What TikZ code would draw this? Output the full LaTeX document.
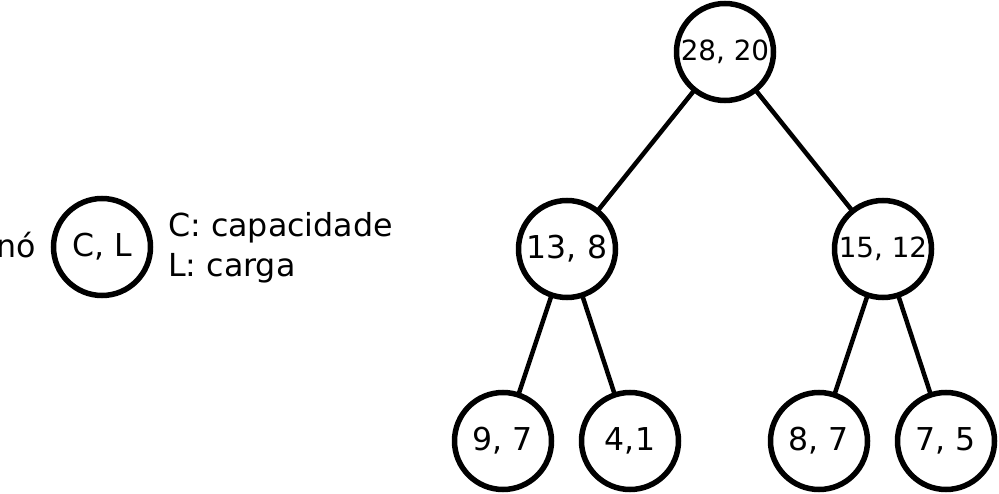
\documentclass[tikz,border=0pt]{standalone}
\usepackage{fontspec}
\setmainfont{DejaVu Sans}
\begin{document}
\begin{tikzpicture}[x=1pt,y=-1pt,
  nd/.style={circle,draw,line width=5.5pt,minimum size=97pt,inner sep=0pt,outer sep=0pt,font=\fontsize{31.5}{38}\selectfont},
  ndsmall/.style={nd,font=\fontsize{27.8}{33}\selectfont},
  lbl/.style={inner sep=0pt,font=\fontsize{31.7}{38}\selectfont},
  edge/.style={line width=4.5pt}]
\useasboundingbox (0,0) rectangle (999,494);
% legend
\node[nd] (leg) at (102,247) {C, L};
\node[lbl,anchor=base east] (no) at (36,258) {nó};
\node[lbl,anchor=base west] (lc) at (168,237) {C: capacidade};
\node[lbl,anchor=base west] (ll) at (168,277) {L: carga};
% tree
\node[ndsmall] (r) at (725,52) {28, 20};
\node[nd] (a) at (567,249) {13, 8};
\node[ndsmall] (b) at (883,249) {15, 12};
\node[nd] (a1) at (503,441) {9, 7};
\node[nd] (a2) at (630,441) {4,1};
\node[nd] (b1) at (819,441) {8, 7};
\node[nd] (b2) at (946,441) {7, 5};
\draw[edge] (r) -- (a);
\draw[edge] (r) -- (b);
\draw[edge] (a) -- (a1);
\draw[edge] (a) -- (a2);
\draw[edge] (b) -- (b1);
\draw[edge] (b) -- (b2);
\end{tikzpicture}
\end{document}
